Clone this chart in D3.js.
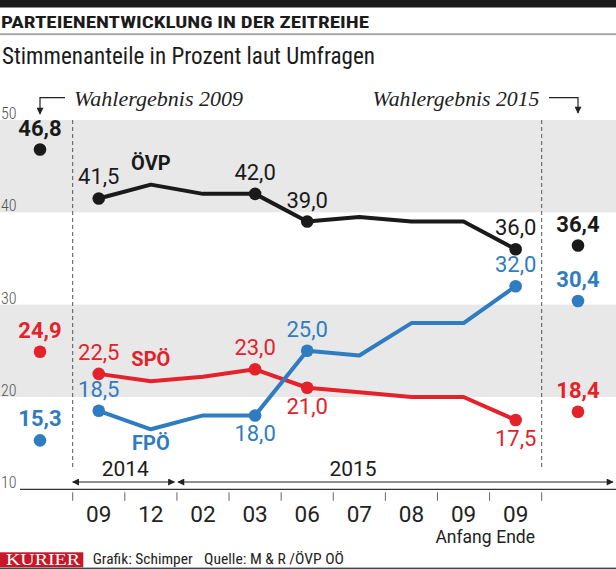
<!DOCTYPE html>
<html><head><meta charset="utf-8">
<script src="https://cdn.jsdelivr.net/npm/d3@7"></script>
<style>
html,body{margin:0;padding:0;background:#fff;}
svg{display:block;}
</style></head><body>
<svg id="c" width="616" height="569"></svg>
<script>
// ---------- data ----------
const periods = [0,1,2,3,4,5,6,7,8];
const monthLabels = ['09','12','02','03','06','07','08','09','09'];
const subLabels = ['','','','','','','','Anfang','Ende'];
const yearLabels = ['2014','2015'];
const yTicks = [10,20,30,40,50];
const bandRanges = [[20,30],[40,50]];
const oevp = [41.5,43.0,42.0,42.0,39.0,39.5,39.0,39.0,36.0];
const spoe = [22.5,21.7,22.2,23.0,21.0,20.5,20.0,20.0,17.5];
const fpoe = [18.5,16.5,18.0,18.0,25.0,24.5,28.0,28.0,32.0];
const elections = ['Wahlergebnis 2009','Wahlergebnis 2015'];
const oevpElection = [46.8,36.4];
const spoeElection = [24.9,18.4];
const fpoeElection = [15.3,30.4];
const seriesNames = ['ÖVP','SPÖ','FPÖ'];
const seriesColors = ['#1a1a1a','#e3222b','#2f7cc0'];
const labelledAbove = [[0,3,4,8],[0,3],[0,4,8]];
const labelledBelow = [[],[4,8],[3]];
const title = 'PARTEIENENTWICKLUNG IN DER ZEITREIHE';
const subtitle = 'Stimmenanteile in Prozent laut Umfragen';

// ---------- setup ----------
const W = 616, H = 569;
const SANS = "'Roboto Condensed','Liberation Sans Narrow','DejaVu Sans Condensed','Arial Narrow',Roboto,sans-serif";
const NUM = "Roboto,'Noto Sans',sans-serif";
const SERIF = "'Liberation Serif','DejaVu Serif',serif";
const svg = d3.select('#c');
const de = d3.formatLocale({decimal:',',thousands:'.',grouping:[3],currency:['','€']});
const fmt = de.format('.1f');

const x = d3.scaleBand().domain(periods).range([72.7,541.7]).paddingInner(0).paddingOuter(0);
const cx = i => x(i) + x.bandwidth()/2;
const ex = d3.scaleOrdinal().domain(elections).range([40,578]);
const y = d3.scaleLinear().domain([10,50]).range([489.3,120]);

// header
svg.append('rect').attr('x',0).attr('y',0).attr('width',W).attr('height',7.5).attr('fill','#1b1b1b');
svg.append('text').attr('x',1).attr('y',27.7).text(title)
  .attr('font-family',SANS).attr('font-weight','bold').attr('font-size',17).attr('fill','#1b1b1b')
  .attr('textLength',368).attr('lengthAdjust','spacingAndGlyphs');
svg.append('rect').attr('x',0).attr('y',33.2).attr('width',W).attr('height',2).attr('fill','#a8a8a8');
svg.append('text').attr('x',2).attr('y',64.3).text(subtitle)
  .attr('font-family',SANS).attr('font-size',24.5).attr('fill','#1b1b1b')
  .attr('textLength',373).attr('lengthAdjust','spacingAndGlyphs');

// bands
svg.append('g').selectAll('rect').data(bandRanges).join('rect')
  .attr('x',0).attr('width',W)
  .attr('y',d=>y(d[1])).attr('height',d=>y(d[0])-y(d[1]))
  .attr('fill','#e8e8e8');

// y tick labels
svg.append('g').selectAll('text').data(yTicks).join('text')
  .attr('x',1).attr('y',d=>y(d)-1).text(d=>d)
  .attr('font-family',SANS).attr('font-size',16).attr('font-weight',300).attr('fill','#555');

// dashed separators
const sepX = [x(0), x(8)+x.bandwidth()];
svg.append('g').selectAll('line').data(sepX).join('line')
  .attr('x1',d=>d).attr('x2',d=>d).attr('y1',y(50)).attr('y2',470)
  .attr('stroke','#555').attr('stroke-width',1).attr('stroke-dasharray','4,3');

// election annotation
const defs = svg.append('defs');
defs.append('marker').attr('id','ah').attr('viewBox','0 0 10 10').attr('refX',9).attr('refY',5)
  .attr('markerWidth',8).attr('markerHeight',7).attr('markerUnits','userSpaceOnUse').attr('orient','auto')
  .append('path').attr('d','M0,0 L10,5 L0,10 Z').attr('fill','#222');
defs.append('marker').attr('id','ahs').attr('viewBox','0 0 10 10').attr('refX',9).attr('refY',5)
  .attr('markerWidth',8).attr('markerHeight',7).attr('markerUnits','userSpaceOnUse').attr('orient','auto-start-reverse')
  .append('path').attr('d','M0,0 L10,5 L0,10 Z').attr('fill','#222');

svg.append('text').attr('x',74).attr('y',106).text(elections[0])
  .attr('font-family',SERIF).attr('font-style','italic').attr('font-size',21).attr('fill','#222')
  .attr('textLength',169).attr('lengthAdjust','spacingAndGlyphs');
svg.append('text').attr('x',539.5).attr('y',106).attr('text-anchor','end').text(elections[1])
  .attr('font-family',SERIF).attr('font-style','italic').attr('font-size',21).attr('fill','#222')
  .attr('textLength',167).attr('lengthAdjust','spacingAndGlyphs');
svg.append('path').attr('d',`M65,97.7 H${ex(elections[0])} V114`).attr('fill','none')
  .attr('stroke','#222').attr('stroke-width',1.2).attr('marker-end','url(#ah)');
svg.append('path').attr('d',`M549,97.7 H${ex(elections[1])} V113`).attr('fill','none')
  .attr('stroke','#222').attr('stroke-width',1.2).attr('marker-end','url(#ah)');

// bottom axis
const axisY = y(10);
svg.append('line').attr('x1',20).attr('x2',W).attr('y1',axisY).attr('y2',axisY)
  .attr('stroke','#333').attr('stroke-width',1.3);
const tickX = periods.map(i=>x(i)).concat([x(8)+x.bandwidth()]);
svg.append('g').selectAll('line').data(tickX).join('line')
  .attr('x1',d=>d).attr('x2',d=>d).attr('y1',axisY+3).attr('y2',axisY+11.5)
  .attr('stroke','#666').attr('stroke-width',1);
svg.append('g').selectAll('text').data(periods).join('text')
  .attr('x',d=>cx(d)).attr('y',521.5).attr('text-anchor','middle').text(d=>monthLabels[d])
  .attr('font-family',NUM).attr('font-size',22.5).attr('fill','#222');
svg.append('g').selectAll('text').data(periods.filter(i=>subLabels[i])).join('text')
  .attr('x',d=>cx(d)).attr('y',543).attr('text-anchor','middle').text(d=>subLabels[d])
  .attr('font-family',NUM).attr('font-size',17.5).attr('fill','#222');

// year spans
const yearSpans = [[x(0), x(2)-2.5],[x(2)+1, W-3]];
svg.append('g').selectAll('line').data(yearSpans).join('line')
  .attr('x1',d=>d[0]).attr('x2',d=>d[1]).attr('y1',482).attr('y2',482)
  .attr('stroke','#222').attr('stroke-width',1.2)
  .attr('marker-start','url(#ahs)').attr('marker-end','url(#ah)');
svg.append('g').selectAll('text').data(yearLabels).join('text')
  .attr('x',(d,i)=> i===0 ? (x(0)+x(2))/2 + 0.5 : 353).attr('y',476).attr('text-anchor','middle').text(d=>d)
  .attr('font-family',NUM).attr('font-size',21).attr('fill','#1b1b1b');

// series
const series = [oevp,spoe,fpoe];
const elec = [oevpElection,spoeElection,fpoeElection];
const line = d3.line().x((d,i)=>cx(i)).y(d=>y(d));
series.forEach((s,k)=>{
  const g = svg.append('g');
  const col = seriesColors[k];
  g.append('path').datum(s).attr('d',line).attr('fill','none')
    .attr('stroke',col).attr('stroke-width',4).attr('stroke-linejoin','round');
  g.selectAll('circle.pt').data(labelledAbove[k].concat(labelledBelow[k])).join('circle')
    .attr('class','pt').attr('cx',i=>cx(i)).attr('cy',i=>y(s[i])).attr('r',6.3).attr('fill',col);
  g.selectAll('text.ab').data(labelledAbove[k]).join('text').attr('class','ab')
    .attr('x',i=>cx(i)).attr('y',i=>y(s[i])-14).attr('text-anchor','middle').text(i=>fmt(s[i]))
    .attr('font-family',NUM).attr('font-size',22).attr('fill',col);
  g.selectAll('text.be').data(labelledBelow[k]).join('text').attr('class','be')
    .attr('x',i=>cx(i)).attr('y',i=>y(s[i])+26).attr('text-anchor','middle').text(i=>fmt(s[i]))
    .attr('font-family',NUM).attr('font-size',22).attr('fill',col);
  // series name near second point
  const below = k===2;
  g.append('text').attr('x',cx(1)).attr('y',y(s[1]) + (below?21:-15)).attr('text-anchor','middle')
    .text(seriesNames[k]).attr('font-family',NUM).attr('font-weight','bold').attr('font-size',20).attr('fill',col);
  // election results
  g.selectAll('circle.el').data(elections).join('circle').attr('class','el')
    .attr('cx',d=>ex(d)).attr('cy',(d,i)=>y(elec[k][i])).attr('r',6.3).attr('fill',col);
  g.selectAll('text.el').data(elections).join('text').attr('class','el')
    .attr('x',d=>ex(d)).attr('y',(d,i)=>y(elec[k][i])-14).attr('text-anchor','middle')
    .text((d,i)=>fmt(elec[k][i]))
    .attr('font-family',NUM).attr('font-weight','bold').attr('font-size',22).attr('fill',col);
});

// footer
svg.append('rect').attr('x',0).attr('y',552.3).attr('width',83.3).attr('height',15).attr('fill','#c9172a');
svg.append('text').attr('x',6).attr('y',565.3).text('KURIER')
  .attr('font-family',SERIF).attr('font-size',16).attr('fill','#fff')
  .attr('textLength',74).attr('lengthAdjust','spacingAndGlyphs');
svg.append('text').attr('x',92.7).attr('y',564).text('Grafik: Schimper')
  .attr('font-family',SANS).attr('font-size',15).attr('fill','#222')
  .attr('textLength',100).attr('lengthAdjust','spacingAndGlyphs');
svg.append('text').attr('x',204).attr('y',564).text('Quelle: M & R /ÖVP OÖ')
  .attr('font-family',SANS).attr('font-size',15).attr('fill','#222')
  .attr('textLength',140).attr('lengthAdjust','spacingAndGlyphs');
svg.append('rect').attr('x',0).attr('y',567.6).attr('width',W).attr('height',1.4).attr('fill','#444');
</script>
</body></html>
